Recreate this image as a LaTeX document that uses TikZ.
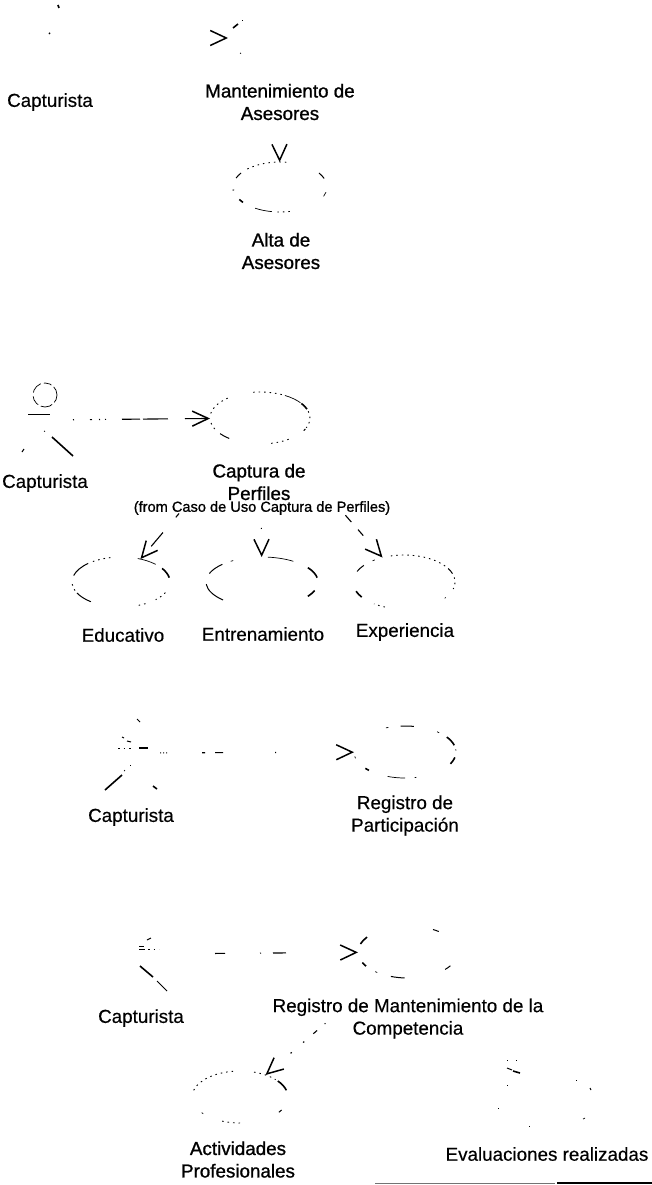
\documentclass[tikz,border=0pt]{standalone}
\usepackage{fontspec}
\setmainfont{Liberation Sans}
\newfontfamily\fakebold[FakeBold=1.0]{Liberation Sans}
\newfontfamily\fakemedium[FakeBold=0.35]{Liberation Sans}
\usetikzlibrary{shapes.geometric,arrows.meta}
\tikzset{
  x=1pt,y=-1pt,
  lab/.style={inner sep=0pt,outer sep=0pt,align=center,font=\fontsize{18.8}{22.5}\selectfont\fakemedium},
  labb/.style={inner sep=0pt,outer sep=0pt,align=center,font=\fontsize{18.8}{22.5}\selectfont\fakebold},
  smalllab/.style={inner sep=0pt,outer sep=0pt,font=\fontsize{14.6}{16}\selectfont\fakebold},
  uc/.style 2 args={ellipse,inner sep=0pt,outer sep=0pt,minimum width=2*#1 pt,minimum height=2*#2 pt},
  actor/.style={rectangle,inner sep=0pt,outer sep=0pt,minimum width=#1 pt,minimum height=80pt},
  thin frag/.style={line width=.7pt,black},
  frag/.style={line width=1pt,black},
  bold frag/.style={line width=1.6pt,black},
  dot frag/.style={line width=.9pt,black,dash pattern=on 1.5pt off 4pt},
  conn/.style={line width=1.1pt,black,-{Straight Barb[length=16pt,width=15pt,line width=1.5pt]}},
}
% \earc[style]{node}{rx}{ry}{start}{end}: a surviving piece of a use-case ellipse
\newcommand{\earc}[6][frag]{\draw[#1] (#2.center) ++(#5:#3 and #4) arc[start angle=#5,end angle=#6,x radius=#3,y radius=#4];}
\begin{document}
\begin{tikzpicture}
\useasboundingbox (0,0) rectangle (652,1185);
\fill[white] (0,0) rectangle (652,1185);

% ---------- group 1
\node[actor=60] (act1) at (50,38) {};
\node[uc={50}{25}] (mant) at (278,38) {};
\node[uc={47}{25}] (alta) at (280,187) {};
\node[lab] (lact1) at (50,102) {Capturista};
\node[labb] (lmant) at (280,102) {Mantenimiento de\\Asesores};
\node[labb] (lalta) at (281,251) {Alta de\\Asesores};
\draw[bold frag] (58,5) -- (59,8);
\draw[bold frag] (49,33) -- (50,33.8);
\draw[conn,dash pattern=on 0pt off 400pt] (act1) -- (mant);
\draw[conn,dash pattern=on 0pt off 400pt] (mant) -- (alta);
\draw[bold frag] (233,28) -- (238,24);
\draw[thin frag] (242,20) -- (243,20);
\draw[thin frag] (240,53) -- (241,53.5);
\earc[frag]{alta}{47}{25}{201}{214}
\earc[dot frag]{alta}{47}{25}{226}{282}
\earc[frag]{alta}{47}{25}{326}{340}
\earc[thin frag]{alta}{47}{25}{12}{22}
\earc[thin frag]{alta}{47}{25}{100}{122}
\earc[dot frag]{alta}{47}{25}{78}{98}
\earc[bold frag]{alta}{47}{25}{142}{150}
\earc[bold frag]{alta}{47}{25}{172}{174}

% ---------- group 2
\node[actor=56] (act2) at (45,420) {};
\node[uc={50}{26}] (capt) at (260,418) {};
\node[uc={49}{25}] (educ) at (121,582) {};
\node[uc={56}{25}] (entr) at (262,582) {};
\node[uc={51}{27}] (expe) at (404,582) {};
\node[lab] (lact2) at (45,483) {Capturista};
\node[labb] (lcapt) at (259,482) {Captura de\\Perfiles};
\node[smalllab] (lfrom) at (262,508) {(from Caso de Uso Captura de Perfiles)};
\node[lab] (leduc) at (123,635) {Educativo};
\node[lab] (lentr) at (263,634) {Entrenamiento};
\node[lab] (lexpe) at (405,632) {Experiencia};
\draw[thin frag,dash pattern=on 8pt off 3pt on 12pt off 3pt on 10pt off 4pt on 12pt off 3pt] (45,395) circle (12);
\draw[frag] (28,414) -- (50,414);
\draw[bold frag] (52,437) -- (73,456);
\draw[thin frag] (44,431) -- (45,431.5);
\draw[frag] (22,452) -- (24,449);
\draw[conn,dash pattern=on 1pt off 16pt on 2pt off 7pt on 1pt off 5pt on 1pt off 16pt on 18pt off 3pt on 25pt off 17pt on 25pt off 100pt] (act2) -- (capt);
\earc[dot frag]{capt}{50}{26}{190}{235}
\earc[dot frag]{capt}{50}{26}{262}{300}
\earc[thin frag]{capt}{50}{26}{300}{324}
\earc[bold frag]{capt}{50}{26}{326}{340}
\earc[dot frag]{capt}{50}{26}{345}{382}
\earc[frag]{capt}{50}{26}{25}{29}
\earc[dot frag]{capt}{50}{26}{55}{80}
\earc[frag]{capt}{50}{26}{128}{143}
\earc[dot frag]{capt}{50}{26}{155}{172}
\draw[conn,dash pattern=on 0pt off 94pt on 5pt off 20pt on 18pt off 100pt] (capt) -- (educ);
\draw[conn,dash pattern=on 0pt off 84pt on 1pt off 200pt] (capt) -- (entr);
\draw[conn,dash pattern=on 0pt off 98pt on 9pt off 10pt on 8pt off 100pt] (capt) -- (expe);
\earc[frag]{educ}{49}{25}{195}{228}
\earc[dot frag]{educ}{49}{25}{235}{258}
\earc[thin frag]{educ}{49}{25}{290}{315}
\earc[bold frag]{educ}{49}{25}{327}{350}
\earc[dot frag]{educ}{49}{25}{25}{45}
\earc[dot frag]{educ}{49}{25}{60}{70}
\earc[frag]{educ}{49}{25}{128}{154}
\earc[dot frag]{educ}{49}{25}{160}{176}
\earc[frag]{entr}{56}{25}{200}{225}
\earc[thin frag]{entr}{56}{25}{236}{239}
\earc[thin frag]{entr}{56}{25}{276}{304}
\earc[bold frag]{entr}{56}{25}{325}{350}
\earc[bold frag]{entr}{56}{25}{20}{35}
\earc[frag]{entr}{56}{25}{134}{175}
\earc[frag]{expe}{51}{27}{203}{218}
\earc[thin frag]{expe}{51}{27}{232}{235}
\earc[dot frag]{expe}{51}{27}{255}{330}
\earc[frag]{expe}{51}{27}{330}{342}
\earc[dot frag]{expe}{51}{27}{350}{375}
\earc[thin frag]{expe}{51}{27}{35}{37}
\earc[bold frag]{expe}{51}{27}{146}{160}
\earc[dot frag]{expe}{51}{27}{112}{126}

% ---------- group 3
\node[actor=60] (act3) at (130,753) {};
\node[uc={51}{26}] (part) at (405,752) {};
\node[lab] (lact3) at (131,817) {Capturista};
\node[lab] (lpart) at (405,815.5) {Registro de\\Participación};
\draw[frag] (137,719) -- (140,722);
\draw[frag] (122,737) -- (124,738);
\draw[frag] (127,741) -- (131,742);
\draw[dot frag] (118,748) -- (132,748);
\draw[bold frag] (139,748) -- (148,748);
\draw[thin frag] (130,765) -- (131,765);
\draw[thin frag] (124,771) -- (125,770);
\draw[bold frag] (105,790) -- (122,775);
\draw[bold frag] (153,786) -- (157,789);
\draw[conn,dash pattern=on 1pt off 2pt on 1pt off 2pt on 1pt off 35pt on 3pt off 10pt on 8pt off 52pt on 1pt off 100pt] (act3) -- (part);
\earc[thin frag]{part}{51}{26}{248}{251}
\earc[frag]{part}{51}{26}{265}{280}
\earc[thin frag]{part}{51}{26}{309}{312}
\earc[bold frag]{part}{51}{26}{325}{345}
\earc[thin frag]{part}{51}{26}{354}{357}
\earc[bold frag]{part}{51}{26}{12}{27}
\earc[thin frag]{part}{51}{26}{77}{79}
\earc[thin frag]{part}{51}{26}{90}{110}
\earc[bold frag]{part}{51}{26}{135}{141}
\earc[thin frag]{part}{51}{26}{166}{170}

% ---------- group 4
\node[actor=68] (act4) at (141,954) {};
\node[uc={50}{26}] (regi) at (408,952) {};
\node[uc={48}{26}] (acti) at (240,1097) {};
\node[lab] (lact4) at (141,1018) {Capturista};
\node[lab] (lregi) at (408,1018.5) {Registro de Mantenimiento de la\\Competencia};
\node[labb] (lacti) at (238,1159.5) {Actividades\\Profesionales};
\node[lab] (leval) at (547,1154) {Evaluaciones realizadas};
\draw[frag] (147,940) -- (151,938);
\draw[frag] (139,946) -- (144,946);
\draw[frag] (139,949) -- (145,949);
\draw[dot frag] (148,949) -- (159,949);
\draw[bold frag] (140,966) -- (153,977);
\draw[frag] (157,981) -- (167,991);
\draw[conn,dash pattern=on 0pt off 40pt on 10pt off 35pt on 1pt off 12pt on 13pt off 100pt] (act4) -- (regi);
\earc[bold frag]{regi}{50}{26}{198}{215}
\earc[frag]{regi}{50}{26}{300}{308}
\earc[frag]{regi}{50}{26}{32}{42}
\earc[thin frag]{regi}{50}{26}{128}{131}
\earc[frag]{regi}{50}{26}{94}{110}
\earc[bold frag]{regi}{50}{26}{147}{156}
\draw[conn,dash pattern=on 0pt off 75pt on 1pt off 10pt on 5pt off 12pt on 1.5pt off 15pt on 1.5pt off 100pt] (regi) -- (acti);
\earc[dot frag]{acti}{48}{26}{195}{262}
\earc[dot frag]{acti}{48}{26}{287}{318}
\earc[bold frag]{acti}{48}{26}{322}{345}
\earc[frag]{acti}{48}{26}{30}{36}
\earc[dot frag]{acti}{48}{26}{90}{112}
\earc[thin frag]{acti}{48}{26}{140}{143}
\draw[thin frag] (507,1060) -- (508,1060);
\draw[thin frag] (516,1060) -- (517,1060);
\draw[frag] (507,1068) -- (512,1070);
\draw[bold frag] (513,1071) -- (520,1073);
\draw[thin frag] (507,1085) -- (508,1085);
\draw[thin frag] (576,1080) -- (577,1080);
\draw[frag] (590,1088) -- (591,1090);
\draw[thin frag] (498,1108) -- (499,1108);
\draw[thin frag] (583,1119) -- (585,1118);
\draw[thin frag] (529,1126) -- (530,1126);
\draw[line width=.6pt,black!55] (375,1183) -- (555,1183);
\draw[line width=1.2pt,black] (557,1183) -- (652,1183);
\end{tikzpicture}
\end{document}
